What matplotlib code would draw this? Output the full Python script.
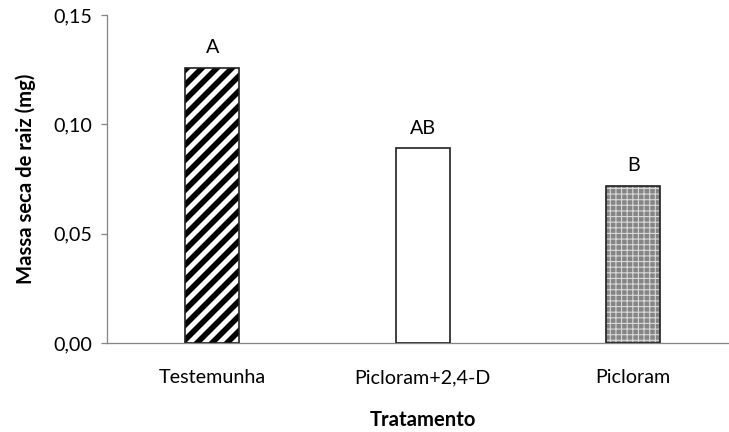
import matplotlib
matplotlib.use("Agg")
import matplotlib.pyplot as plt

# Data
tratamentos = ["Testemunha", "Picloram+2,4-D", "Picloram"]
massa_seca = [0.126, 0.089, 0.072]
letras = ["A", "AB", "B"]
yticks = [0.00, 0.05, 0.10, 0.15]
ytick_labels = ["0,00", "0,05", "0,10", "0,15"]

DPI = 135
plt.rcParams["font.family"] = ["Lato", "DejaVu Sans"]
plt.rcParams["hatch.linewidth"] = 3.0

fig = plt.figure(figsize=(729 / DPI, 432 / DPI), dpi=DPI)
ax = fig.add_axes([0.1468, 0.206, 0.8532, 0.759])

x = list(range(len(tratamentos)))
width = 0.257
axis_gray = "#868686"
edge = "#222222"

# Testemunha: black diagonal stripes
ax.bar(x[0], massa_seca[0], width, color="white", edgecolor="black",
       hatch="///", linewidth=0, zorder=2)
# Picloram+2,4-D: plain white
ax.bar(x[1], massa_seca[1], width, color="white", linewidth=0, zorder=2)
# Picloram: fine grey checker
plt.rcParams["hatch.linewidth"] = 0.6
ax.bar(x[2], massa_seca[2], width, color="#858585", edgecolor="#d8d8d8",
       hatch="++++", linewidth=0, zorder=2)
# Outlines
ax.bar(x, massa_seca, width, fill=False, edgecolor=edge, linewidth=0.9, zorder=3)

for xi, v, lt in zip(x, massa_seca, letras):
    ax.annotate(lt, (xi, v), xytext=(0, 6), textcoords="offset points",
                ha="center", va="bottom", fontsize=10.5, color="black")

ax.set_xlim(-0.5, 2.455)
ax.set_ylim(0, 0.15)
ax.set_yticks(yticks)
ax.set_yticklabels(ytick_labels)
ax.set_xticks(x)
ax.set_xticklabels(tratamentos)

for s in ["top", "right"]:
    ax.spines[s].set_visible(False)
for s in ["left", "bottom"]:
    ax.spines[s].set_color(axis_gray)
    ax.spines[s].set_linewidth(0.7)

ax.tick_params(axis="y", direction="out", length=3, width=0.7, color=axis_gray,
               labelsize=10.5, pad=5)
ax.tick_params(axis="x", length=0, labelsize=10.5, pad=14)

ax.set_ylabel("Massa seca de raiz (mg)", fontsize=10.8, fontweight="bold", labelpad=9)
fig.text(423 / 729, 1 - 420 / 432, "Tratamento", fontsize=10.8,
         fontweight="bold", ha="center", va="center")

fig.savefig("out.png", dpi=DPI)
